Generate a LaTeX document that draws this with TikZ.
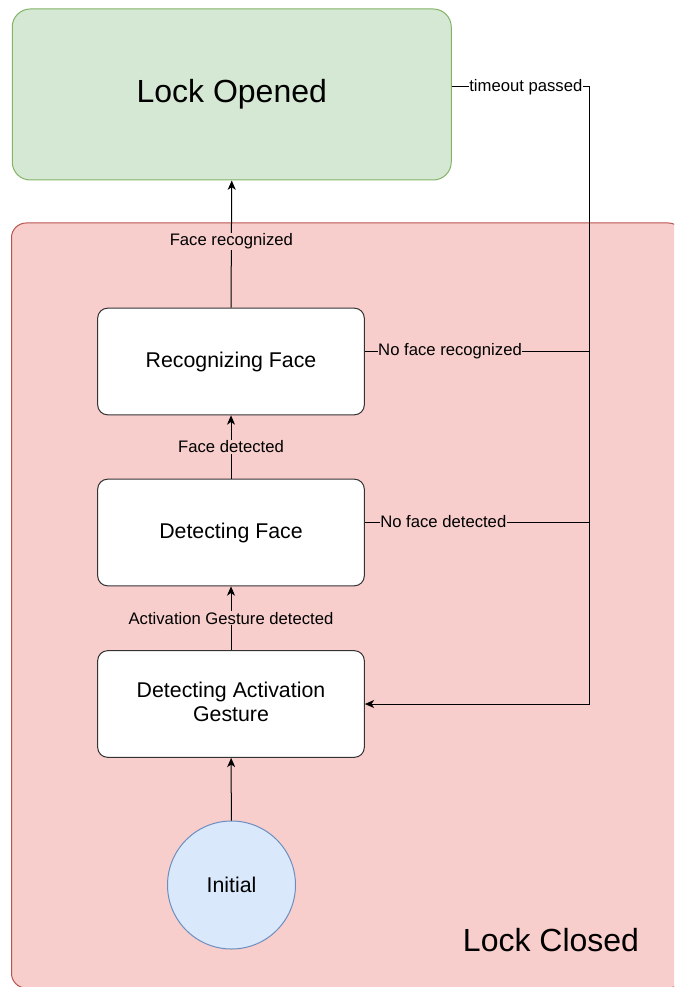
\documentclass[tikz,border=0pt]{standalone}
\usepackage{fontspec}
\setmainfont{Liberation Sans}
\usetikzlibrary{arrows.meta}

\definecolor{openfill}{HTML}{D5E8D4}
\definecolor{opendraw}{HTML}{82B366}
\definecolor{closedfill}{HTML}{F8CECC}
\definecolor{closeddraw}{HTML}{B85450}
\definecolor{initfill}{HTML}{DAE8FC}
\definecolor{initdraw}{HTML}{6C8EBF}

\tikzset{
  statebox/.style={draw=black!80, fill=white, rounded corners=7.5pt, line width=0.75pt,
    minimum width=200pt, minimum height=80pt, align=center, font=\fontsize{16}{19}\selectfont},
  edgelabel/.style={fill=closedfill, inner sep=0.5pt, font=\fontsize{12.5}{15}\selectfont},
  outlabel/.style={fill=white, inner sep=0.5pt, font=\fontsize{12.5}{15}\selectfont},
  flow/.style={draw=black, line width=0.75pt, -{Stealth[length=7pt, width=6pt, inset=2pt]}},
  wire/.style={draw=black, line width=0.75pt},
}

\begin{document}
\begin{tikzpicture}[x=0.75pt, y=-0.75pt]
  \useasboundingbox (0,0) rectangle (674,987);
  \clip (0,0) rectangle (674,987);

  % composite state: lock closed
  \draw[fill=closedfill, draw=closeddraw, line width=0.75pt, rounded corners=11pt]
    (11.5,223) rectangle (683,988);
  \node[font=\fontsize{24}{28}\selectfont] (closedlbl) at (551,940) {Lock Closed};

  % state: lock opened
  \node[draw=opendraw, fill=openfill, line width=0.75pt, rounded corners=13.5pt,
        minimum width=329.25pt, minimum height=128.25pt,
        font=\fontsize{24}{28}\selectfont] (opened) at (231.75,94.5) {Lock Opened};

  % inner states
  \node[statebox] (rec) at (231,361.5) {Recognizing Face};
  \node[statebox] (det) at (231,532.5) {Detecting Face};
  \node[statebox] (act) at (231,704)
    {Detecting Activation\\[-1pt]Gesture\rule[-3pt]{0pt}{0pt}};
  \node[circle, draw=initdraw, fill=initfill, line width=0.75pt, minimum size=96pt,
        inner sep=0pt, font=\fontsize{16}{19}\selectfont] (init) at (231.5,885) {Initial};

  % forward transitions
  \draw[flow] (init) -- (act);
  \draw[flow] (act) -- node[edgelabel, pos=0.5] {Activation Gesture detected} (det);
  \draw[flow] (det) -- node[edgelabel, pos=0.5] {Face detected} (rec);
  \draw[flow] (rec.north) -- node[edgelabel, pos=0.52] {Face recognized} (opened.south);

  % return transitions back to gesture detection
  \coordinate (jrec) at (589,351);
  \coordinate (jdet) at (589,522);
  \coordinate (jtop) at (589,87);
  \coordinate (jbot) at (589,704);

  \draw[wire] (rec.east |- jrec) -- node[edgelabel, pos=0.38] {No face recognized} (jrec);
  \draw[wire] (det.east |- jdet) -- node[edgelabel, pos=0.35] {No face detected} (jdet);
  \draw[flow] (opened.east |- jtop) -- node[outlabel, pos=0.54] {timeout passed} (jtop)
    -- (jbot) -- (act.east);
\end{tikzpicture}
\end{document}
